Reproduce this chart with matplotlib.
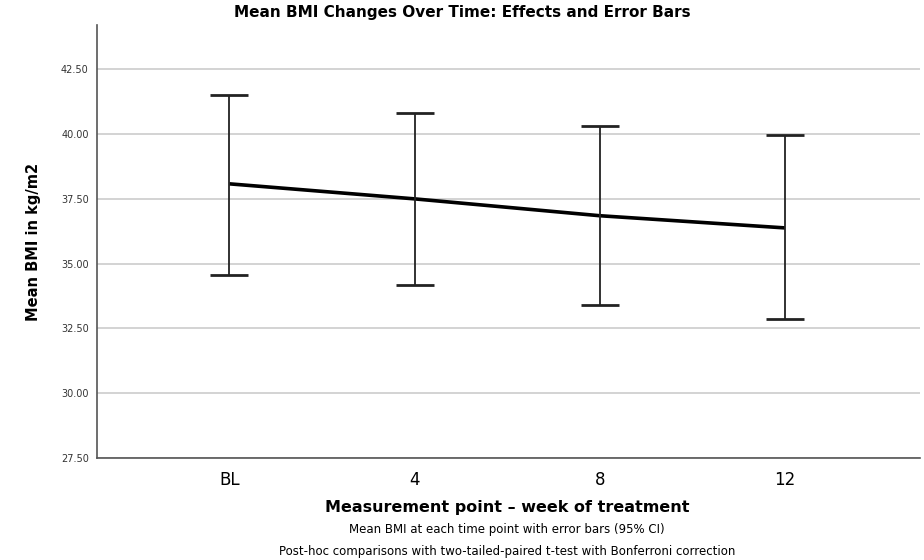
import matplotlib
matplotlib.use("Agg")
import matplotlib.pyplot as plt

categories = ["BL", "4", "8", "12"]
means = [38.08, 37.50, 36.85, 36.38]
upper = [41.50, 40.81, 40.31, 39.96]
lower = [34.58, 34.19, 33.42, 32.85]
yticks = [27.5, 30.0, 32.5, 35.0, 37.5, 40.0, 42.5]

fig = plt.figure(figsize=(9.24, 5.6), dpi=100)
ax = fig.add_axes([0.105, 0.182, 0.8907, 0.773])

x = list(range(len(categories)))
ax.plot(x, means, color="black", lw=2.6, zorder=3, solid_capstyle="butt")
yerr = [[m - l for m, l in zip(means, lower)], [u - m for m, u in zip(means, upper)]]
ax.errorbar(x, means, yerr=yerr, fmt="none", ecolor="#222222", elinewidth=1.3,
            capsize=14, capthick=2.0, zorder=4)

ax.set_xlim(-0.715, 3.73)
ax.set_ylim(27.5, 44.2)
ax.set_yticks(yticks)
ax.set_yticklabels([f"{v:.2f}" for v in yticks], fontsize=7, color="#333333")
ax.set_xticks(x)
ax.set_xticklabels(categories, fontsize=12)
ax.tick_params(axis="both", length=0, pad=9)
ax.tick_params(axis="y", pad=6)
ax.yaxis.grid(True, color="#cccccc", lw=1.2)
ax.set_axisbelow(True)
for s in ["top", "right"]:
    ax.spines[s].set_visible(False)
for s in ["left", "bottom"]:
    ax.spines[s].set_color("#555555")
    ax.spines[s].set_linewidth(1.2)

ax.set_ylabel("Mean BMI in kg/m2", fontsize=10.5, fontweight="bold", labelpad=14)
fig.text(0.5, 0.977, "Mean BMI Changes Over Time: Effects and Error Bars",
         ha="center", va="center", fontsize=11, fontweight="bold")
fig.text(0.549, 0.093, "Measurement point \u2013 week of treatment",
         ha="center", va="center", fontsize=11.5, fontweight="bold")
fig.text(0.549, 0.055, "Mean BMI at each time point with error bars (95% CI)",
         ha="center", va="center", fontsize=8.5)
fig.text(0.549, 0.016, "Post-hoc comparisons with two-tailed-paired t-test with Bonferroni correction",
         ha="center", va="center", fontsize=8.5)

fig.savefig("out.png", dpi=100)
